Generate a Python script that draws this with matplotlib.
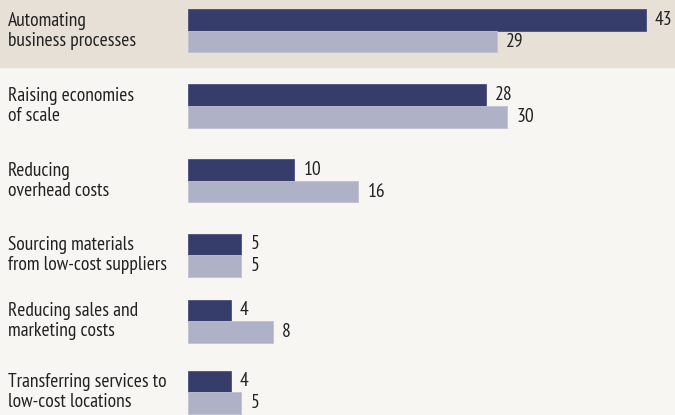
import matplotlib.pyplot as plt
from matplotlib.transforms import blended_transform_factory

# data
categories = ['Automating\nbusiness processes',
              'Raising economies\nof scale',
              'Reducing\noverhead costs',
              'Sourcing materials\nfrom low-cost suppliers',
              'Reducing sales and\nmarketing costs',
              'Transferring services to\nlow-cost locations']
series_a = [43, 28, 10, 5, 4, 4]
series_b = [29, 30, 16, 5, 8, 5]

# layout (pixel rows, figure is 675x415)
row_centers = [31, 106, 181, 255, 321, 392]
bar_h = 21.5
DARK = '#373d6b'
LIGHT = '#afb2c6'
BAND = '#e7e0d7'
BG = '#f7f6f2'
FONT = ['PT Sans Narrow', 'DejaVu Sans']

plt.rcParams['font.family'] = FONT

fig = plt.figure(figsize=(6.75, 4.15), dpi=100)
fig.patch.set_facecolor(BG)
ax = fig.add_axes([0, 0, 1, 1])
ax.set_facecolor(BG)

px = 10.65  # pixels per unit
x0 = 188
ax.set_xlim(-x0 / px, (675 - x0) / px)
ax.set_ylim(415, 0)
ax.axis('off')

# highlighted first row
ax.axhspan(0, 67, color=BAND, zorder=0)

tr = blended_transform_factory(fig.transFigure, ax.transData)
for i, (cat, a, b) in enumerate(zip(categories, series_a, series_b)):
    yc = row_centers[i]
    ax.barh(yc - bar_h / 2, a, height=bar_h, color=DARK, edgecolor='#4a5080',
            linewidth=0.6, zorder=2)
    ax.barh(yc + bar_h / 2, b, height=bar_h, color=LIGHT, edgecolor='#bfc2d3',
            linewidth=0.6, zorder=2)
    ax.text(a + 9 / px, yc - bar_h / 2, str(a), va='center', ha='left',
            fontsize=14, color='#222222')
    ax.text(b + 9 / px, yc + bar_h / 2, str(b), va='center', ha='left',
            fontsize=14, color='#222222')
    ax.text(8 / 675, yc, cat, transform=tr, va='center', ha='left',
            fontsize=14, linespacing=1.12, color='#222222')

fig.savefig('out.png', dpi=100, facecolor=BG)
